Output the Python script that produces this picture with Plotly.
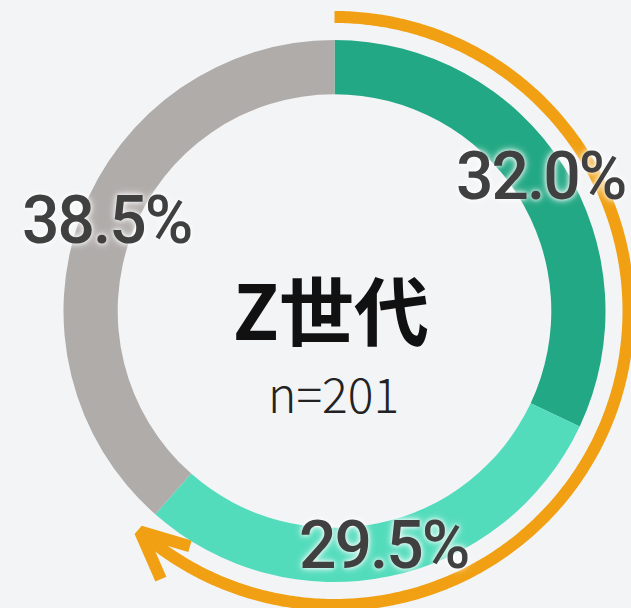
import numpy as np
import plotly.graph_objects as go

# ---- data ----
categories = ["区分A", "区分B", "その他"]
values = [32.0, 29.5, 38.5]
value_labels = ["32.0%", "29.5%", "38.5%"]
colors = ["#22a884", "#52dcbc", "#b0acaa"]
center_title = "Z世代"
center_sub = "n=201"

# ---- geometry (pixels) ----
W, H = 631, 608
cx, cy, R = 334.5, 311.0, 271.0
hole = 0.80
label_r = R * (1 + hole) / 2
arc_r = 294.0
bg = "#f2f4f6"
orange = "#f0a012"

total = sum(values)
fig = go.Figure()

# donut
fig.add_trace(go.Pie(
    labels=categories, values=values, hole=hole, sort=False,
    direction="clockwise", rotation=0,
    marker=dict(colors=colors, line=dict(width=0)),
    textinfo="none", hoverinfo="skip", showlegend=False,
    domain=dict(x=[(cx - R) / W, (cx + R) / W],
                y=[(H - cy - R) / H, (H - cy + R) / H]),
))

# orange arc covering the first two slices
end_deg = 360.0 * (values[0] + values[1]) / total
th = np.radians(np.linspace(0, end_deg, 400))
ax_ = cx + arc_r * np.sin(th)
ay_ = cy - arc_r * np.cos(th)
fig.add_trace(go.Scatter(x=ax_, y=ay_, mode="lines",
                         line=dict(color=orange, width=12, simplify=False),
                         hoverinfo="skip", showlegend=False))
# arrow head at end of arc
te = np.radians(end_deg)
tipx, tipy = ax_[-1], ay_[-1]
back = np.array([-np.cos(te), -np.sin(te)])  # backward tangent (screen coords)
L = 52
pts = []
for s in (+1, -1):
    a = np.radians(25) * s
    rx = back[0] * np.cos(a) - back[1] * np.sin(a)
    ry = back[0] * np.sin(a) + back[1] * np.cos(a)
    pts.append((tipx + L * rx, tipy + L * ry))
fig.add_trace(go.Scatter(x=[pts[0][0], tipx, pts[1][0]],
                         y=[pts[0][1], tipy, pts[1][1]], mode="lines",
                         line=dict(color=orange, width=12, simplify=False),
                         hoverinfo="skip", showlegend=False))

# percentage labels at slice mid-angles
annotations = []
cum = 0.0
for v, lab in zip(values, value_labels):
    mid = np.radians(360.0 * (cum + v / 2) / total)
    cum += v
    annotations.append(dict(
        x=cx + label_r * np.sin(mid), y=cy - label_r * np.cos(mid) - 4,
        xref="x", yref="y", text=lab, showarrow=False,
        xanchor="center", yanchor="middle",
        font=dict(family="Roboto", size=66, color="#404040", weight=500,
                  shadow="0 0 4px rgba(255,255,255,0.95), 0 0 8px rgba(255,255,255,0.9)"),
    ))
annotations.append(dict(x=cx - 4, y=cy - 4, xref="x", yref="y", text=center_title,
                        showarrow=False, xanchor="center", yanchor="middle",
                        font=dict(family="Noto Sans CJK JP", size=75, color="#111111",
                                  weight="bold")))
annotations.append(dict(x=cx - 1, y=cy + 81, xref="x", yref="y", text=center_sub,
                        showarrow=False, xanchor="center", yanchor="middle",
                        font=dict(family="Noto Sans CJK JP", size=48, color="#222222",
                                  weight=300)))

fig.update_layout(
    width=W, height=H, autosize=False,
    margin=dict(l=0, r=0, t=0, b=0, pad=0),
    paper_bgcolor=bg, plot_bgcolor=bg,
    xaxis=dict(range=[0, W], visible=False, fixedrange=True),
    yaxis=dict(range=[H, 0], visible=False, fixedrange=True),
    annotations=annotations,
    showlegend=False,
)

post = """
document.body.style.margin = '0';
document.body.style.padding = '0';
document.body.style.background = '#f2f4f6';
var g = document.getElementById('{plot_id}');
g.querySelectorAll('.annotation-text').forEach(function(t){
  if (t.textContent.indexOf('%') >= 0) { t.style.letterSpacing = '-2px'; }
});
"""
fig.write_html("out.html", post_script=post, config={"displayModeBar": False})
